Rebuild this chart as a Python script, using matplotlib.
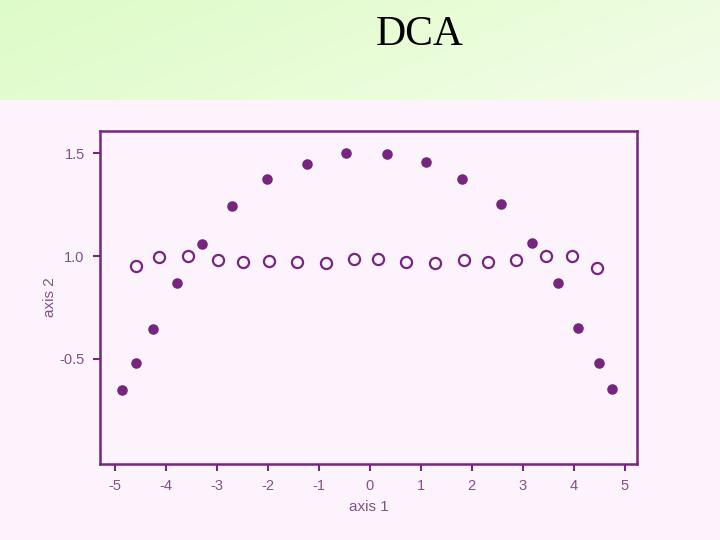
import numpy as np
import matplotlib
matplotlib.use("Agg")
import matplotlib.pyplot as plt
from matplotlib.colors import LinearSegmentedColormap

# Data
arch_x = [-4.86, -4.58, -4.26, -3.78, -3.29, -2.71, -2.01, -1.24, -0.47,
          0.33, 1.10, 1.80, 2.58, 3.19, 3.69, 4.09, 4.49, 4.75]
arch_y = [0.348, 0.482, 0.647, 0.867, 1.057, 1.244, 1.374, 1.447, 1.501,
          1.497, 1.456, 1.374, 1.252, 1.063, 0.867, 0.652, 0.481, 0.356]
flat_x = [-4.59, -4.14, -3.56, -2.98, -2.48, -1.98, -1.42, -0.86, -0.31,
          0.16, 0.71, 1.28, 1.85, 2.31, 2.86, 3.45, 3.97, 4.45]
flat_y = [0.953, 0.997, 1.001, 0.981, 0.969, 0.976, 0.971, 0.967, 0.987,
          0.984, 0.971, 0.967, 0.982, 0.969, 0.981, 0.999, 0.999, 0.943]
x_ticks = [-5, -4, -3, -2, -1, 0, 1, 2, 3, 4, 5]
x_tick_labels = ["-5", "-4", "-3", "-2", "-1", "0", "1", "2", "3", "4", "5"]
y_ticks = [0.5, 1.0, 1.5]
y_tick_labels = ["-0.5", "1.0", "1.5"]
title = "DCA"
x_label = "axis 1"
y_label = "axis 2"

purple = "#76267e"
text_col = "#84508a"
bg = "#fdf3fd"

fig = plt.figure(figsize=(7.2, 5.4), dpi=100)
fig.patch.set_facecolor(bg)

# Header band with green gradient
hax = fig.add_axes([0, 1 - 100 / 540, 1, 100 / 540])
gx = np.linspace(0, 1, 300)
gy = np.linspace(0, 1, 60)
GX, GY = np.meshgrid(gx, gy)
grad = 0.75 * GX + 0.25 * GY
cmap = LinearSegmentedColormap.from_list("g", ["#ddfbc8", "#e8fcd6", "#f3fdea"])
hax.imshow(grad, cmap=cmap, aspect="auto", extent=[0, 1, 0, 1], origin="upper")
hax.set_axis_off()
fig.text(420 / 720, 1 - 35 / 540, title, family="Liberation Serif", fontsize=30,
         color="black", ha="center", va="center")

ax = fig.add_axes([100 / 720, 1 - 464 / 540, 537 / 720, 333 / 540])
ax.set_facecolor(bg)
ax.plot(arch_x, arch_y, "o", color=purple, markersize=7.6, markeredgewidth=0)
ax.plot(flat_x, flat_y, "o", markerfacecolor="none", markeredgecolor=purple,
        markersize=8, markeredgewidth=1.6)
ax.set_xlim(-5.29, 5.24)
ax.set_ylim(-0.01, 1.607)
ax.set_xticks(x_ticks)
ax.set_xticklabels(x_tick_labels)
ax.set_yticks(y_ticks)
ax.set_yticklabels(y_tick_labels)
for s in ax.spines.values():
    s.set_color(purple)
    s.set_linewidth(1.8)
ax.tick_params(direction="out", length=5, width=1.5, color=purple,
               labelcolor=text_col, labelsize=10.5, pad=6)
for lab in ax.get_xticklabels() + ax.get_yticklabels():
    lab.set_family("Liberation Sans")
ax.set_xlabel(x_label, color=text_col, fontsize=11, family="Liberation Sans", labelpad=5)
ax.set_ylabel(y_label, color=text_col, fontsize=11, family="Liberation Sans", labelpad=2)

fig.savefig("out.png", dpi=100, facecolor=fig.get_facecolor())
